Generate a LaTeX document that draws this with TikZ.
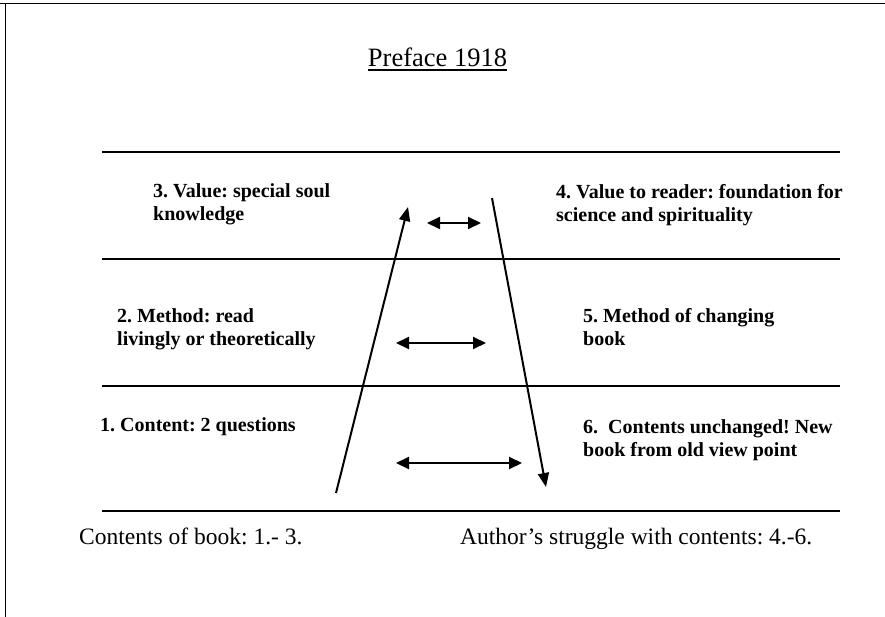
\documentclass[tikz,border=0pt]{standalone}
\usepackage{fontspec}
\setmainfont{Liberation Serif}
\usetikzlibrary{arrows.meta}

\tikzset{
  frameline/.style={line width=1.5pt, black},
  rowline/.style={line width=2pt, black},
  flow/.style={line width=2pt, -{Triangle[length=14pt,width=11pt]}},
  link/.style={line width=2pt, {Triangle[length=13pt,width=12pt]}-{Triangle[length=13pt,width=12pt]}},
  label/.style={anchor=north west, inner sep=0pt, align=left,
    font=\fontsize{20}{23.5}\selectfont\bfseries\frenchspacing},
  foot/.style={anchor=base west, inner sep=0pt,
    font=\fontsize{23.5}{28}\selectfont\frenchspacing},
}

\begin{document}
\begin{tikzpicture}[x=1pt, y=-1pt]
\useasboundingbox (0,0) rectangle (885,617);

% page frame (top and left edges)
\coordinate (fTL) at (5.5,3.5);
\coordinate (fT0) at (0,3.5);
\coordinate (fTR) at (885,3.5);
\coordinate (fBL) at (5.5,617);
\draw[frameline] (fT0) -- (fTR);
\draw[frameline] (fTL) -- (fBL);

% title
\node[anchor=base, inner sep=0pt, font=\fontsize{26.5}{32}\selectfont] (title) at (437.5,67) {Preface 1918};
\draw[line width=2pt] ([yshift=-3.5pt]title.base west) -- ([yshift=-3.5pt]title.base east);

% row separators
\foreach \y/\n in {152/r0, 259/r1, 386/r2, 511/r3} {
  \coordinate (\n L) at (102,\y);
  \coordinate (\n R) at (840,\y);
  \draw[rowline] (\n L) -- (\n R);
}

% left column
\node[label] (v3) at (153,183) {3. Value: special soul\\knowledge};
\node[label] (m2) at (117,308) {2. Method: read\\livingly or theoretically};
\node[label] (c1) at (100,417) {1. Content: 2 questions};

% right column
\node[label] (v4) at (556,184) {4. Value to reader: foundation for\\science and spirituality};
\node[label] (m5) at (583,308) {5. Method of changing\\book};
\node[label] (c6) at (583,419) {6.\ \ Contents unchanged! New\\book from old view point};

% rising and falling arrows
\coordinate (upS) at (336,493);
\coordinate (upE) at (408,207);
\coordinate (dnS) at (492,198);
\coordinate (dnE) at (546,487);
\draw[flow] (upS) -- (upE);
\draw[flow] (dnS) -- (dnE);

% links between the two columns
\coordinate (l3a) at (427,223);
\coordinate (l3b) at (481,223);
\coordinate (l2a) at (396,343);
\coordinate (l2b) at (486,343);
\coordinate (l1a) at (396,463);
\coordinate (l1b) at (522,463);
\draw[link] (l3a) -- (l3b);
\draw[link] (l2a) -- (l2b);
\draw[link] (l1a) -- (l1b);

% footer
\node[foot] (fl) at (79,544) {Contents of book: 1.- 3.};
\node[foot] (fr) at (460,544) {Author’s struggle with contents: 4.-6.};
\end{tikzpicture}
\end{document}
